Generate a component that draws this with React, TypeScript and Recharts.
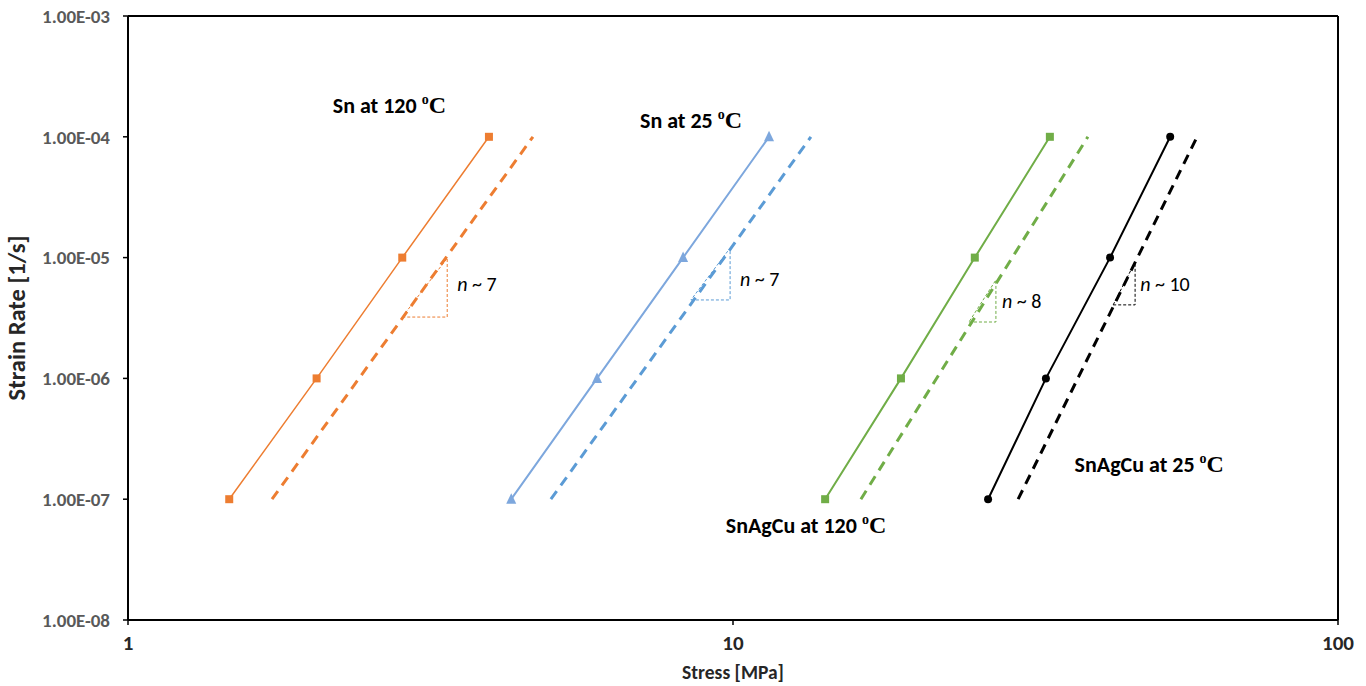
import React from 'react';
import { ComposedChart, Line, XAxis, YAxis, ReferenceLine, ReferenceDot } from 'recharts';

// strain rates shared by the measured points
const strainRates = [1e-7, 1e-6, 1e-5, 1e-4];
const sn120Stress = [1.47, 2.05, 2.84, 3.95];
const sn25Stress = [4.3, 5.96, 8.27, 11.47];
const sac120Stress = [14.2, 18.95, 25.1, 33.4];
const sac25Stress = [26.4, 32.9, 42.0, 52.8];

// dashed fitted lines (end points)
const fitRates = [1e-7, 1e-4];
const sn120Fit = [1.73, 4.67];
const sn25Fit = [5.0, 13.45];
const sac120Fit = [16.27, 38.6];
const sac25Fit = [29.6, 58.5];

// slope triangles: [x left, x right], [y low, y high]
const sn120TriX = [2.84, 3.37];
const sn120TriY = [3.22e-6, 9.9e-6];
const sn25TriX = [8.52, 9.89];
const sn25TriY = [4.46e-6, 1.2e-5];
const sac120TriX = [24.55, 27.2];
const sac120TriY = [2.93e-6, 6.53e-6];
const sac25TriX = [42.5, 46.2];
const sac25TriY = [4.06e-6, 9.2e-6];

const xTicks = [1, 10, 100];
const yTicks = [1e-8, 1e-7, 1e-6, 1e-5, 1e-4, 1e-3];
const minorSteps = [2, 3, 4, 5, 6, 7, 8, 9];
const xMinor = [1, 10].flatMap((d) => minorSteps.map((m) => m * d)).concat(xTicks);
const yMinor = [1e-8, 1e-7, 1e-6, 1e-5, 1e-4].flatMap((d) => minorSteps.map((m) => m * d)).concat(yTicks);

const yTickLabels = ['1.00E-08', '1.00E-07', '1.00E-06', '1.00E-05', '1.00E-04', '1.00E-03'];

const ORANGE = '#ED7D31';
const BLUE = '#7DA7DD';
const BLUE_DASH = '#5B9BD5';
const GREEN = '#70AD47';
const BLACK = '#000000';
const FONT = "Carlito, Lato, 'Open Sans', sans-serif";

const toPoints = (xs: number[], ys: number[]) => xs.map((x, i) => ({ x, y: ys[i] }));
const toTriangle = (xs: number[], ys: number[]) => [
  { x: xs[0], y: ys[0] },
  { x: xs[1], y: ys[0] },
  { x: xs[1], y: ys[1] },
  { x: xs[0], y: ys[0] },
];

const squareDot = (color: string, s: number) => (p: any) => (
  <rect key={p.index} x={p.cx - s / 2} y={p.cy - s / 2} width={s} height={s} fill={color} />
);
const triangleDot = (color: string, s: number) => (p: any) => (
  <polygon
    key={p.index}
    points={`${p.cx},${p.cy - s * 0.6} ${p.cx - s / 2},${p.cy + s * 0.45} ${p.cx + s / 2},${p.cy + s * 0.45}`}
    fill={color}
  />
);
const circleDot = (color: string, r: number) => (p: any) => (
  <circle key={p.index} cx={p.cx} cy={p.cy} r={r} fill={color} />
);

const nothing = () => <g />;

const seriesLabel = (name: string) => (p: any) => (
  <text x={p.cx} y={p.cy} fontFamily={FONT} fontWeight={700} fontSize={22} fill="#000">
    {name}
    <tspan fontFamily="'Liberation Serif', serif" fontSize={14} dy={-9}>o</tspan>
    <tspan fontFamily="'Liberation Serif', serif" fontSize={24} dy={9}>C</tspan>
  </text>
);

const slopeLabel = (val: string) => (p: any) => (
  <text x={p.cx} y={p.cy} fontFamily={FONT} fontSize={20} fill="#000">
    <tspan fontStyle="italic">n</tspan> ~ {val}
  </text>
);

const fmtY = (v: number) => {
  const i = yTicks.findIndex((t) => Math.abs(Math.log10(t) - Math.log10(v)) < 1e-6);
  return i >= 0 ? yTickLabels[i] : '';
};

const App: React.FC = () => (
  <div style={{ position: 'absolute', left: 0, top: 0, background: '#fff' }}>
    <ComposedChart width={1366} height={686} margin={{ top: 16, right: 28, left: 48, bottom: 36 }}>
      <XAxis
        dataKey="x"
        type="number"
        scale="log"
        domain={[1, 100]}
        ticks={xTicks}
        allowDataOverflow
        height={30}
        tickSize={5}
        tickMargin={10}
        axisLine={{ stroke: '#000', strokeWidth: 2 }}
        tickLine={{ stroke: '#000', strokeWidth: 1.5 }}
        tick={{ fontFamily: FONT, fontWeight: 700, fontSize: 21, fill: '#262626' }}
        label={{
          content: (p: any) => (
            <text
              x={p.viewBox.x + p.viewBox.width / 2}
              y={679}
              textAnchor="middle"
              fontFamily={FONT}
              fontWeight={700}
              fontSize={19.5}
              fill="#262626"
            >
              Stress [MPa]
            </text>
          ),
        }}
      />
      <XAxis
        xAxisId="minorX"
        dataKey="x"
        type="number"
        scale="log"
        domain={[1, 100]}
        ticks={xMinor}
        allowDataOverflow
        mirror
        height={0}
        tickSize={5}
        axisLine={false}
        tickLine={{ stroke: '#000', strokeWidth: 1.2 }}
        tick={nothing}
      />
      <YAxis
        dataKey="y"
        type="number"
        scale="log"
        domain={[1e-8, 1e-3]}
        ticks={yTicks}
        allowDataOverflow
        width={80}
        tickSize={5}
        tickMargin={13}
        tickFormatter={fmtY}
        axisLine={{ stroke: '#000', strokeWidth: 2 }}
        tickLine={{ stroke: '#000', strokeWidth: 1.5 }}
        tick={{ fontFamily: FONT, fontWeight: 700, fontSize: 19, fill: '#595959' }}
        label={{
          content: (p: any) => (
            <text
              x={25}
              y={p.viewBox.y + p.viewBox.height / 2}
              transform={`rotate(-90, 25, ${p.viewBox.y + p.viewBox.height / 2})`}
              textAnchor="middle"
              fontFamily={FONT}
              fontWeight={700}
              fontSize={24.5}
              fill="#262626"
            >
              Strain Rate [1/s]
            </text>
          ),
        }}
      />
      <YAxis
        yAxisId="minorY"
        dataKey="y"
        type="number"
        scale="log"
        domain={[1e-8, 1e-3]}
        ticks={yMinor}
        allowDataOverflow
        mirror
        width={0}
        tickSize={5}
        axisLine={false}
        tickLine={{ stroke: '#000', strokeWidth: 1.2 }}
        tick={nothing}
      />

      <ReferenceLine y={1e-3} stroke="#000" strokeWidth={2} />
      <ReferenceLine x={100} stroke="#000" strokeWidth={2} />

      {/* slope triangles */}
      <Line data={toTriangle(sn120TriX, sn120TriY)} dataKey="y" stroke={ORANGE} strokeWidth={1} strokeDasharray="3 2" dot={false} isAnimationActive={false} />
      <Line data={toTriangle(sn25TriX, sn25TriY)} dataKey="y" stroke={BLUE_DASH} strokeWidth={1} strokeDasharray="3 2" dot={false} isAnimationActive={false} />
      <Line data={toTriangle(sac120TriX, sac120TriY)} dataKey="y" stroke={GREEN} strokeWidth={1} strokeDasharray="3 2" dot={false} isAnimationActive={false} />
      <Line data={toTriangle(sac25TriX, sac25TriY)} dataKey="y" stroke={BLACK} strokeWidth={1} strokeDasharray="3 2" dot={false} isAnimationActive={false} />

      {/* fitted dashed lines */}
      <Line data={toPoints(sn120Fit, fitRates)} dataKey="y" stroke={ORANGE} strokeWidth={3} strokeDasharray="10 7" dot={false} isAnimationActive={false} />
      <Line data={toPoints(sn25Fit, fitRates)} dataKey="y" stroke={BLUE_DASH} strokeWidth={3} strokeDasharray="10 7" dot={false} isAnimationActive={false} />
      <Line data={toPoints(sac120Fit, fitRates)} dataKey="y" stroke={GREEN} strokeWidth={3} strokeDasharray="10 7" dot={false} isAnimationActive={false} />
      <Line data={toPoints(sac25Fit, fitRates)} dataKey="y" stroke={BLACK} strokeWidth={3} strokeDasharray="10 7" dot={false} isAnimationActive={false} />

      {/* measured data */}
      <Line data={toPoints(sn120Stress, strainRates)} dataKey="y" stroke={ORANGE} strokeWidth={1.5} dot={squareDot(ORANGE, 8)} isAnimationActive={false} />
      <Line data={toPoints(sn25Stress, strainRates)} dataKey="y" stroke={BLUE} strokeWidth={2} dot={triangleDot(BLUE, 10)} isAnimationActive={false} />
      <Line data={toPoints(sac120Stress, strainRates)} dataKey="y" stroke={GREEN} strokeWidth={2} dot={squareDot(GREEN, 8)} isAnimationActive={false} />
      <Line data={toPoints(sac25Stress, strainRates)} dataKey="y" stroke={BLACK} strokeWidth={2} dot={circleDot(BLACK, 4)} isAnimationActive={false} />

      {/* annotations */}
      <ReferenceDot x={2.18} y={1.57e-4} r={0} shape={seriesLabel('Sn at 120 ')} />
      <ReferenceDot x={7.02} y={1.18e-4} r={0} shape={seriesLabel('Sn at 25 ')} />
      <ReferenceDot x={9.73} y={5.25e-8} r={0} shape={seriesLabel('SnAgCu at 120 ')} />
      <ReferenceDot x={36.7} y={1.68e-7} r={0} shape={seriesLabel('SnAgCu at 25 ')} />
      <ReferenceDot x={3.5} y={5.3e-6} r={0} shape={slopeLabel('7')} />
      <ReferenceDot x={10.27} y={5.82e-6} r={0} shape={slopeLabel('7')} />
      <ReferenceDot x={27.84} y={3.83e-6} r={0} shape={slopeLabel('8')} />
      <ReferenceDot x={47.1} y={5.3e-6} r={0} shape={slopeLabel('10')} />
    </ComposedChart>
  </div>
);

export default App;
